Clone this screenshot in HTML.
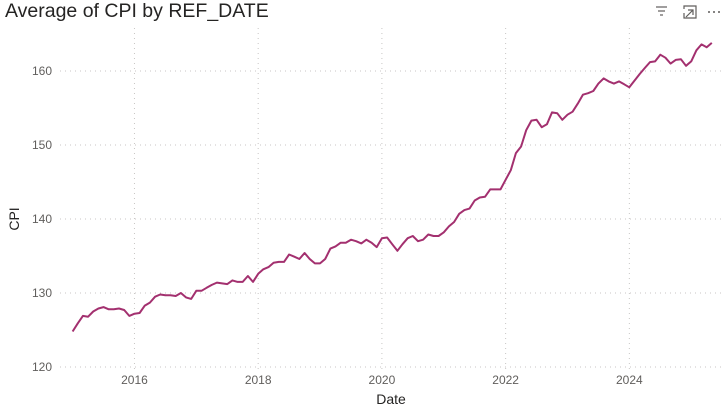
<!DOCTYPE html>
<html><head><meta charset="utf-8"><style>
body{margin:0;background:#fff;font-family:"Liberation Sans",sans-serif;}
</style></head><body>
<svg width="728" height="407" id="chart" xmlns="http://www.w3.org/2000/svg">
<text x="5" y="17" font-size="19.5" fill="#252423">Average of CPI by REF_DATE</text>
<g stroke="#605E5C" stroke-width="1.2"><line x1="656" y1="7" x2="667" y2="7"/><line x1="658" y1="11" x2="665" y2="11"/><line x1="660" y1="15" x2="663" y2="15"/></g>
<g stroke="#605E5C" stroke-width="1.2" fill="none"><path d="M684 9 V6 H696 V18 H684 V13"/><path d="M688 10 L693 10 L693 15 M693 10 L686 17"/></g>
<g fill="#605E5C"><circle cx="709" cy="12" r="1"/><circle cx="714" cy="12" r="1"/><circle cx="719" cy="12" r="1"/></g>
<g id="grid"></g>
<g id="axes"></g>
<text x="19" y="219" font-size="14" fill="#252423" transform="rotate(-90 19 219)" text-anchor="middle">CPI</text>
<text x="391" y="404" font-size="14" fill="#252423" text-anchor="middle">Date</text>
<path id="line" fill="none" stroke="#A3306F" stroke-width="2" stroke-linejoin="round"/>
</svg>
<script>
const startYear = 2015;
const cpiValues = [124.8,125.9,126.9,126.8,127.5,127.9,128.1,127.8,127.8,127.9,127.7,126.9,
127.2,127.3,128.3,128.7,129.5,129.8,129.7,129.7,129.6,130.0,129.4,129.2,
130.3,130.3,130.7,131.1,131.4,131.3,131.2,131.7,131.5,131.5,132.3,131.5,
132.6,133.2,133.5,134.1,134.2,134.2,135.2,134.9,134.6,135.4,134.6,134.0,
134.0,134.6,136.0,136.3,136.8,136.8,137.2,137.0,136.7,137.2,136.8,136.2,
137.4,137.5,136.6,135.7,136.6,137.4,137.7,137.0,137.2,137.9,137.7,137.7,
138.2,139.0,139.6,140.7,141.2,141.4,142.5,142.9,143.0,144.0,144.0,144.0,
145.3,146.6,148.9,149.8,152.0,153.3,153.4,152.4,152.8,154.4,154.3,153.4,
154.1,154.5,155.6,156.8,157.0,157.3,158.3,159.0,158.6,158.3,158.6,158.2,
157.8,158.7,159.6,160.4,161.2,161.3,162.2,161.8,161.0,161.5,161.6,160.7,
161.3,162.8,163.6,163.2,163.8];
const yTicks = [120,130,140,150,160];
const xTickYears = [2016,2018,2020,2022,2024];
const ns="http://www.w3.org/2000/svg";
const yScale = v => 367 - (v-120)*7.4;
const xScale = m => 72.6 + m*5.155;
const grid=document.getElementById('grid'), axes=document.getElementById('axes');
yTicks.forEach(t=>{
  const l=document.createElementNS(ns,'line');
  
  
  l.setAttribute('x1',60);l.setAttribute('x2',722);l.setAttribute('y1',yScale(t));l.setAttribute('y2',yScale(t));
  l.setAttribute('stroke','#C8C6C4');l.setAttribute('stroke-dasharray','1 4');
  grid.appendChild(l);
  const tx=document.createElementNS(ns,'text');
  
  
  tx.setAttribute('x',52);tx.setAttribute('y',yScale(t)+4);tx.setAttribute('text-anchor','end');
  tx.setAttribute('font-size','12');tx.setAttribute('fill','#605E5C');tx.textContent=t;
  axes.appendChild(tx);
});
xTickYears.forEach(yr=>{
  const x=xScale((yr-startYear)*12);
  const l=document.createElementNS(ns,'line');
  
  
  l.setAttribute('x1',x);l.setAttribute('x2',x);l.setAttribute('y1',28);l.setAttribute('y2',372);
  l.setAttribute('stroke','#C8C6C4');l.setAttribute('stroke-dasharray','1 4');
  grid.appendChild(l);
  const tx=document.createElementNS(ns,'text');
  
  
  tx.setAttribute('x',x);tx.setAttribute('y',384);tx.setAttribute('text-anchor','middle');
  tx.setAttribute('font-size','12');tx.setAttribute('fill','#605E5C');tx.textContent=yr;
  axes.appendChild(tx);
});
document.getElementById('line').setAttribute('d',cpiValues.map((v,i)=>(i?'L':'M')+xScale(i).toFixed(1)+' '+yScale(v).toFixed(1)).join(' '));
</script>
</body></html>
